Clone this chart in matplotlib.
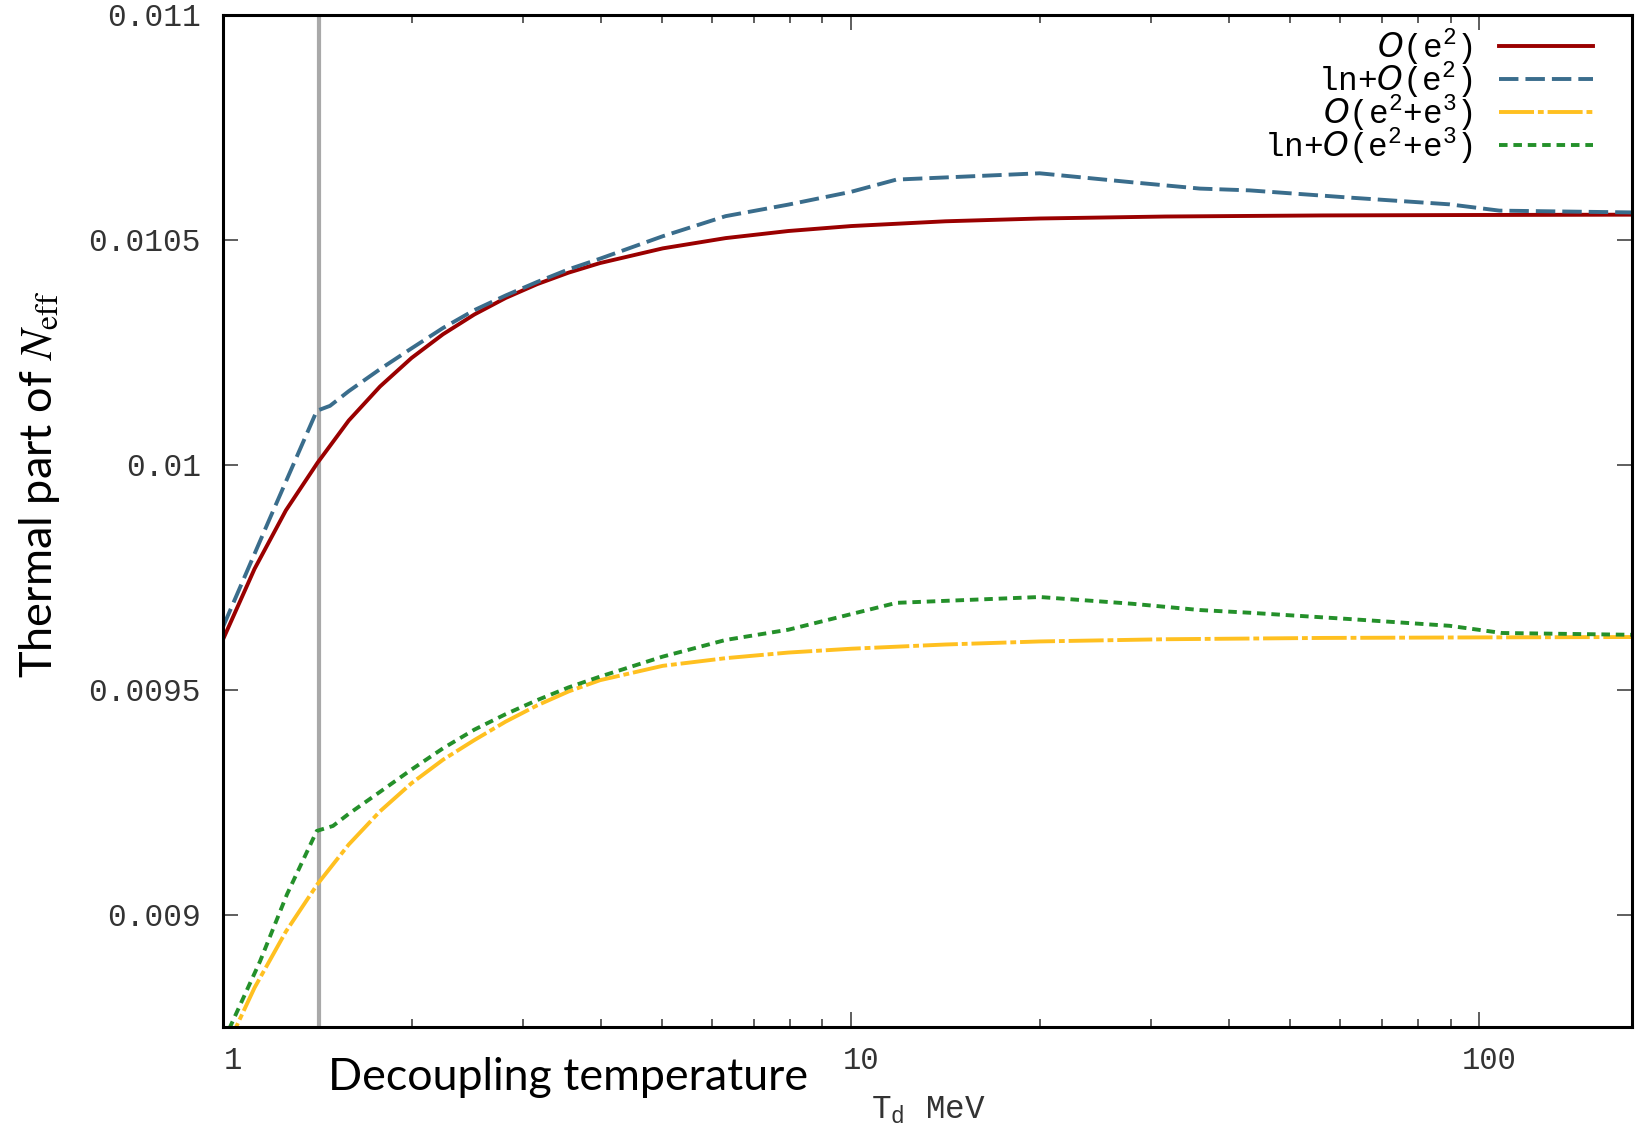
import numpy as np
import matplotlib.pyplot as plt
import matplotlib.transforms as mtransforms
from matplotlib.font_manager import FontProperties
from matplotlib.ticker import FixedLocator, LogLocator, NullFormatter

plt.rcParams['mathtext.fontset'] = 'custom'
plt.rcParams['mathtext.rm'] = 'Liberation Mono'
plt.rcParams['mathtext.it'] = 'DejaVu Sans:italic'

# decoupling temperature T_d [MeV] vs thermal part of N_eff
t_e2 = [1, 1.122, 1.259, 1.413, 1.585, 1.778, 1.995, 2.239, 2.512, 2.818, 3.162, 3.548,
        3.981, 5.012, 6.31, 7.943, 10, 14.13, 19.95, 31.62, 56.23, 100, 175]
n_e2 = [0.009612, 0.0097683, 0.0098987, 0.0100040, 0.0100983, 0.0101741, 0.0102373,
        0.0102901, 0.0103341, 0.0103709, 0.0104015, 0.0104271, 0.0104484, 0.0104811,
        0.0105039, 0.0105197, 0.0105307, 0.0105413, 0.0105475, 0.0105519, 0.0105543,
        0.0105553, 0.010556]

t_ln_e2 = [1, 1.188, 1.41, 1.48, 1.585, 1.778, 1.995, 2.239, 2.512, 2.818, 3.162, 3.548,
           3.981, 5.012, 6.31, 7.943, 10, 11.8, 19.95, 28, 35.9, 43.1, 62.1, 89.6, 107.6, 175]
n_ln_e2 = [0.00964, 0.009882, 0.01012, 0.010131, 0.0101636, 0.0102126, 0.0102587, 0.010304,
           0.0103438, 0.0103764, 0.0104064, 0.0104344, 0.0104581, 0.0105081, 0.0105527,
           0.0105784, 0.0106069, 0.010634, 0.010648, 0.010628, 0.010614, 0.010610, 0.010594,
           0.010579, 0.010565, 0.010561]

t_e23 = [1, 1.122, 1.259, 1.413, 1.585, 1.778, 1.995, 2.239, 2.512, 2.818, 3.162, 3.548,
         3.981, 5.012, 6.31, 7.943, 10, 14.13, 19.95, 31.62, 56.23, 100, 175]
n_e23 = [0.008688, 0.0088371, 0.0089623, 0.0090674, 0.0091557, 0.0092297, 0.0092919,
         0.0093441, 0.0093879, 0.009429, 0.009465, 0.009496, 0.009521, 0.009553, 0.00957,
         0.0095825, 0.009591, 0.0096004, 0.0096072, 0.0096121, 0.009615, 0.0096162, 0.009617]

t_ln_e23 = [1, 1.145, 1.264, 1.41, 1.496, 1.585, 1.778, 1.995, 2.239, 2.512, 2.818, 3.162,
            3.548, 3.981, 5.012, 6.31, 7.943, 10, 11.8, 19.95, 28, 35.9, 43.1, 62.1, 89.6,
            108.6, 175]
n_ln_e23 = [0.008716, 0.008896, 0.009045, 0.009186, 0.009197, 0.0092239, 0.0092729,
            0.0093224, 0.0093695, 0.0094111, 0.0094456, 0.0094767, 0.009505, 0.009529,
            0.0095735, 0.0096105, 0.0096333, 0.009668, 0.009693, 0.009706, 0.009691,
            0.009677, 0.009671, 0.009657, 0.009642, 0.009626, 0.009622]

t_mark = 1.42

xticks = [1, 10, 100]
xlabels = ['1', '10', '100']
yticks = [0.009, 0.0095, 0.01, 0.0105, 0.011]
ylabels = ['0.009', '0.0095', '0.01', '0.0105', '0.011']

fig = plt.figure(figsize=(16.5, 11.25), dpi=100)
ax = fig.add_axes([0.1352, 0.0871, 0.8539, 0.8996])

ax.axvline(t_mark, color='#a9a9a9', lw=3, zorder=1)
ax.plot(t_e2, n_e2, color='#9a0000', lw=2.8, label=r'$O$(e$^2$)')
ax.plot(t_ln_e2, n_ln_e2, color='#3a6d8c', lw=2.8, dashes=(5, 1.8), label=r'ln+$O$(e$^2$)')
ax.plot(t_e23, n_e23, color='#ffc020', lw=2.8, dashes=(9, 1, 1.5, 1), label=r'$O$(e$^2$+e$^3$)')
ax.plot(t_ln_e23, n_ln_e23, color='#24902a', lw=2.8, dashes=(2.2, 1.5), label=r'ln+$O$(e$^2$+e$^3$)')

ax.set_xscale('log')
ax.set_xlim(1, 175)
ax.set_ylim(0.00875, 0.011)

mono = 'Liberation Mono'
ax.xaxis.set_major_locator(FixedLocator(xticks))
ax.xaxis.set_minor_locator(LogLocator(base=10, subs=np.arange(2, 10)))
ax.xaxis.set_minor_formatter(NullFormatter())
ax.set_xticks(xticks)
ax.set_xticklabels(xlabels, family=mono, fontsize=22, color='#333333')
ax.set_yticks(yticks)
ax.set_yticklabels(ylabels, family=mono, fontsize=22.5, color='#333333')

ax.tick_params(which='major', direction='in', length=11, width=1.1, color='#333333',
               top=True, right=True, pad=16)
ax.tick_params(axis='x', which='major', pad=14)
ax.tick_params(which='minor', direction='in', length=5.8, width=1.1, color='#333333',
               top=True, right=True)
for s in ax.spines.values():
    s.set_linewidth(2.2)

shift = mtransforms.ScaledTranslation(0.10, 0, fig.dpi_scale_trans)
for lab in ax.get_xticklabels():
    lab.set_transform(lab.get_transform() + shift)

leg_font = FontProperties(family=mono, size=23.5, math_fontfamily='custom')
ax.legend(loc='upper right', bbox_to_anchor=(1593 / 1650, 1 - 26 / 1125),
          bbox_transform=fig.transFigure, frameon=False, markerfirst=False,
          prop=leg_font, handlelength=2.88, handletextpad=0.8,
          labelspacing=-0.24, borderpad=0, borderaxespad=0)

fig.text(40 / 1650, 1 - 484 / 1125, r'Thermal part of $N_{\mathrm{eff}}$', rotation=90,
         ha='center', va='center',
         fontproperties=FontProperties(family='Lato', size=32.5, math_fontfamily='stix'))
fig.text(568 / 1650, 1 - 1078 / 1125, 'Decoupling temperature', ha='center', va='center',
         family='Lato', fontsize=32.2)
fig.text(871 / 1650, 1 - 1118 / 1125, r'T$_\mathrm{d}$ MeV', ha='left', va='baseline',
         fontproperties=FontProperties(family=mono, size=23.5, math_fontfamily='custom'),
         color='#333333')

fig.savefig('out.png', dpi=100)
